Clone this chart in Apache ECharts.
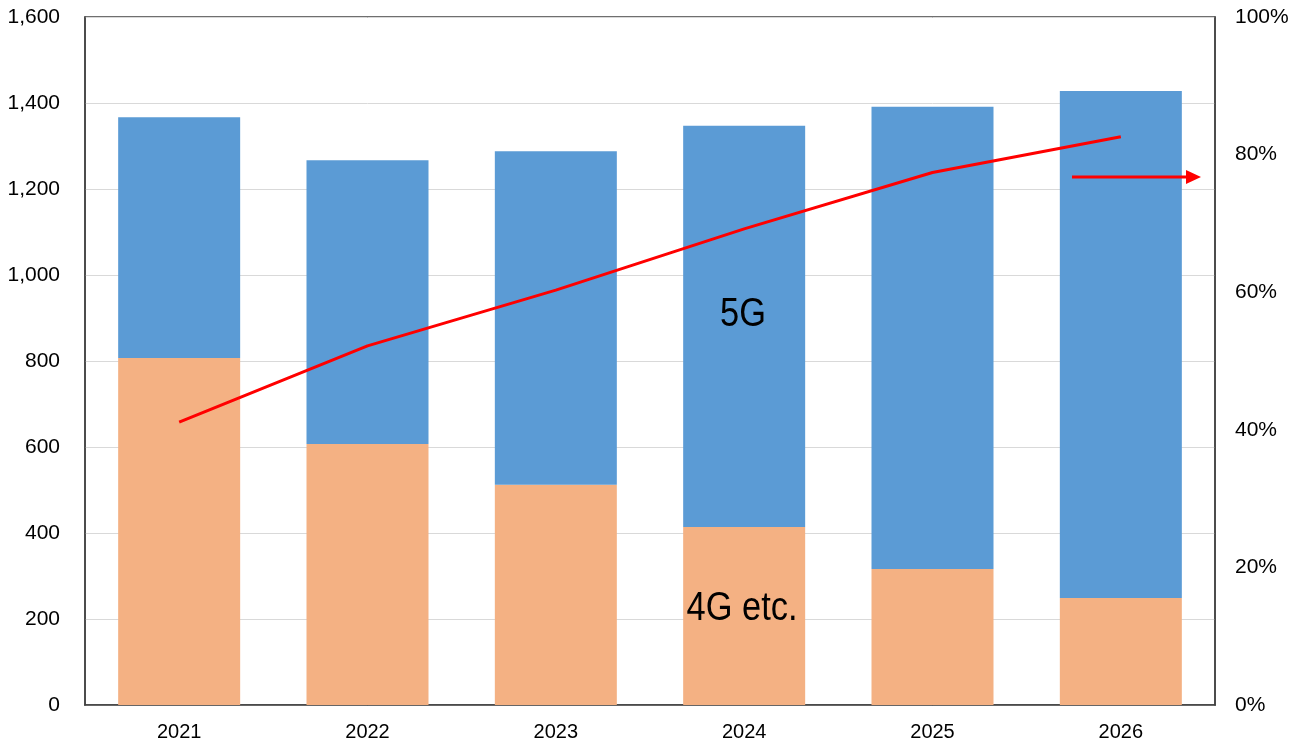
<!DOCTYPE html>
<html>
<head>
<meta charset="utf-8">
<script src="https://cdn.jsdelivr.net/npm/echarts@6/dist/echarts.min.js"></script>
<style>
  html, body { margin: 0; padding: 0; background: #fff; }
  #chart { width: 1302px; height: 742px; }
</style>
</head>
<body>
<div id="chart"></div>
<script>
// Shipments by year, split into 4G etc. and 5G, with the 5G share on the right axis
const years = ['2021', '2022', '2023', '2024', '2025', '2026'];
const units4G = [807, 607, 512, 414, 316, 249];
const units5G = [560, 660, 776, 933, 1075, 1179];
const share5G = [41.1, 52.2, 60.3, 69.2, 77.4, 82.6];

const leftTicks = { min: 0, max: 1600, interval: 200 };
const rightTicks = { min: 0, max: 100, interval: 20 };

const FONT = 'Liberation Sans, Arial, sans-serif';

const chart = echarts.init(document.getElementById('chart'), null, { renderer: 'canvas' });

const option = {
  animation: false,
  grid: {
    left: 85, right: 87, top: 17, bottom: 37,
    show: true, borderColor: '#404040', borderWidth: 1.5, backgroundColor: 'transparent'
  },
  xAxis: {
    type: 'category',
    data: years,
    axisLine: { show: true, lineStyle: { color: '#404040', width: 1.5 } },
    axisTick: { show: false },
    axisLabel: { color: '#000', fontSize: 20, fontFamily: FONT, margin: 17 }
  },
  yAxis: [
    {
      type: 'value',
      min: leftTicks.min, max: leftTicks.max, interval: leftTicks.interval,
      axisLine: { show: true, lineStyle: { color: '#404040', width: 1.5 } },
      axisTick: { show: false },
      splitLine: { show: true, lineStyle: { color: '#d9d9d9', width: 1 } },
      axisLabel: {
        color: '#000', fontSize: 21, fontFamily: FONT, margin: 25,
        formatter: v => v.toLocaleString('en-US')
      }
    },
    {
      type: 'value',
      min: rightTicks.min, max: rightTicks.max, interval: rightTicks.interval,
      position: 'right',
      axisLine: { show: true, lineStyle: { color: '#404040', width: 1.5 } },
      axisTick: { show: false },
      splitLine: { show: false },
      axisLabel: {
        color: '#000', fontSize: 21, fontFamily: FONT, margin: 20,
        formatter: v => v + '%'
      }
    }
  ],
  series: [
    {
      name: '4G etc.',
      type: 'bar',
      stack: 'total',
      data: units4G,
      barWidth: 122,
      itemStyle: { color: '#F4B183' }
    },
    {
      name: '5G',
      type: 'bar',
      stack: 'total',
      data: units5G,
      barWidth: 122,
      itemStyle: { color: '#5B9BD5' }
    },
    {
      name: '5G share',
      type: 'line',
      yAxisIndex: 1,
      data: share5G,
      symbol: 'none',
      lineStyle: { color: '#FF0000', width: 3 },
      z: 5
    }
  ],
  graphic: [
    {
      type: 'text', x: 743, y: 315, scaleX: 0.86,
      style: { text: '5G', fontSize: 40, fontFamily: FONT, fill: '#000', align: 'center', verticalAlign: 'middle' },
      z: 10
    },
    {
      type: 'text', x: 742, y: 609, scaleX: 0.86,
      style: { text: '4G etc.', fontSize: 40, fontFamily: FONT, fill: '#000', align: 'center', verticalAlign: 'middle' },
      z: 10
    },
    {
      type: 'line',
      shape: { x1: 1072, y1: 177, x2: 1188, y2: 177 },
      style: { stroke: '#FF0000', lineWidth: 3 },
      z: 10
    },
    {
      type: 'polygon',
      shape: { points: [[1186, 170], [1201, 177], [1186, 184]] },
      style: { fill: '#FF0000' },
      z: 10
    }
  ]
};

chart.setOption(option);
</script>
</body>
</html>
